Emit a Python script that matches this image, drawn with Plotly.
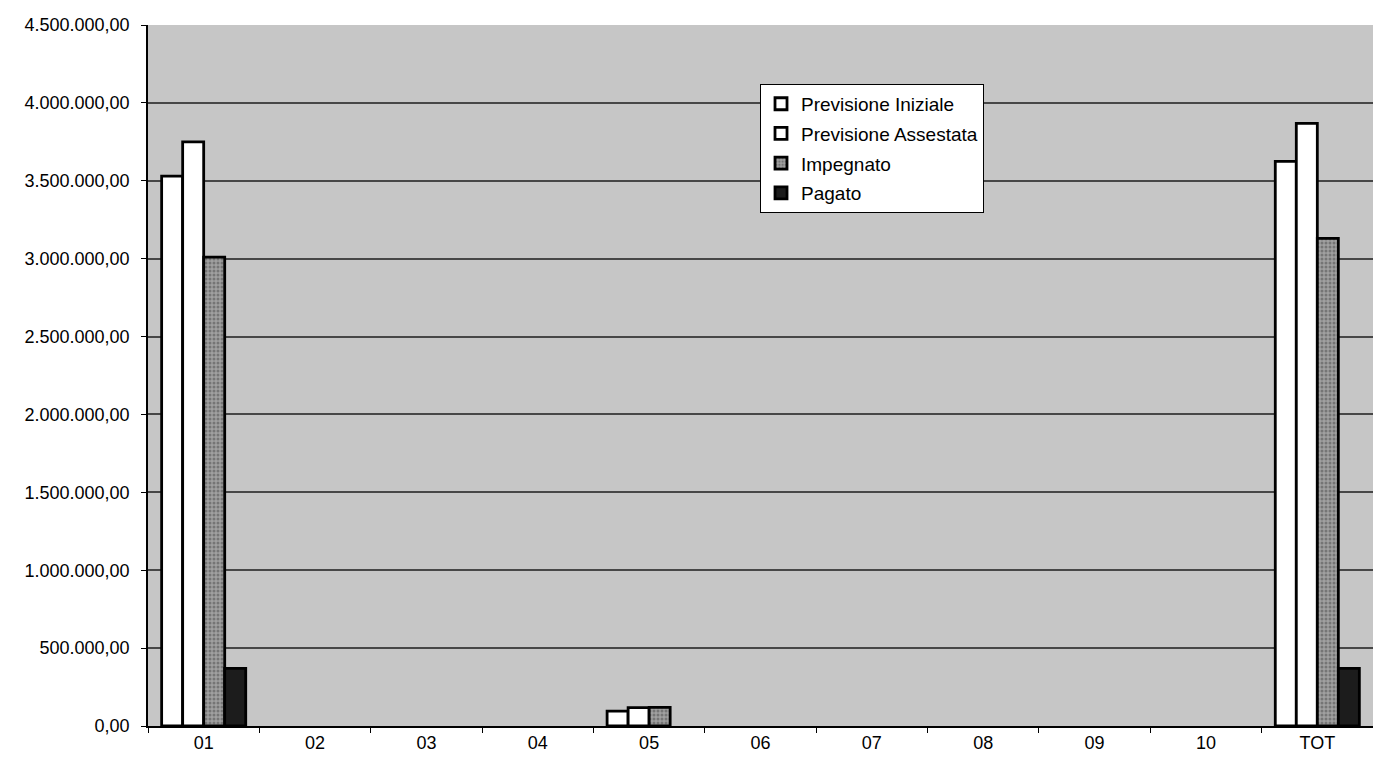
import plotly.graph_objects as go

categories = ["01", "02", "03", "04", "05", "06", "07", "08", "09", "10", "TOT"]
previsione_iniziale = [3530000, 0, 0, 0, 95000, 0, 0, 0, 0, 0, 3625000]
previsione_assestata = [3750000, 0, 0, 0, 118000, 0, 0, 0, 0, 0, 3868000]
impegnato = [3010000, 0, 0, 0, 120000, 0, 0, 0, 0, 0, 3130000]
pagato = [370000, 0, 0, 0, 0, 0, 0, 0, 0, 0, 370000]
y_ticks = [0, 500000, 1000000, 1500000, 2000000, 2500000, 3000000, 3500000, 4000000, 4500000]

series = [
    ("Previsione Iniziale", previsione_iniziale, "#ffffff", None),
    ("Previsione Assestata", previsione_assestata, "#ffffff", None),
    ("Impegnato", impegnato, "#9a9a9a", dict(shape=".", fgcolor="#4a4a4a", bgcolor="#a0a0a0", size=4, solidity=0.45)),
    ("Pagato", pagato, "#1c1c1c", None),
]

fig = go.Figure()
for name, vals, color, pattern in series:
    # empty bars get no outline so nothing is drawn along the baseline
    widths = [2.8 if v else 0 for v in vals]
    marker = dict(color=color, line=dict(color="#000000", width=widths))
    if pattern:
        marker["pattern"] = pattern
    fig.add_trace(go.Bar(
        x=categories, y=vals, name=name, marker=marker,
        legendgroup=name,
    ))

fig.update_layout(
    width=1373, height=764,
    margin=dict(l=148, r=0, t=25, b=38),
    paper_bgcolor="#ffffff",
    plot_bgcolor="#c6c6c6",
    barmode="group",
    bargap=0.245,
    bargroupgap=0,
    separators=",.",
    font=dict(family="Liberation Sans, Arial, sans-serif", size=18, color="#000000"),
    showlegend=True,
    legend=dict(
        x=0.4996, y=0.916, xanchor="left", yanchor="top",
        bgcolor="#ffffff", bordercolor="#000000", borderwidth=1,
        font=dict(size=19), tracegroupgap=2,
        itemwidth=30,
    ),
)

fig.update_yaxes(
    range=[0, 4500000],
    tickvals=y_ticks,
    tickformat=",.2f",
    showgrid=True, gridcolor="#474747", gridwidth=2,
    showline=True, linecolor="#000000", linewidth=1.5,
    ticks="outside", ticklen=5, tickcolor="#000000",
    ticklabelstandoff=8,
    zeroline=False,
)
fig.update_xaxes(
    type="category",
    tickson="boundaries",
    showline=True, linecolor="#000000", linewidth=1.5,
    ticks="outside", ticklen=5, tickcolor="#000000",
    showgrid=False,
)

fig.write_html("out.html")
